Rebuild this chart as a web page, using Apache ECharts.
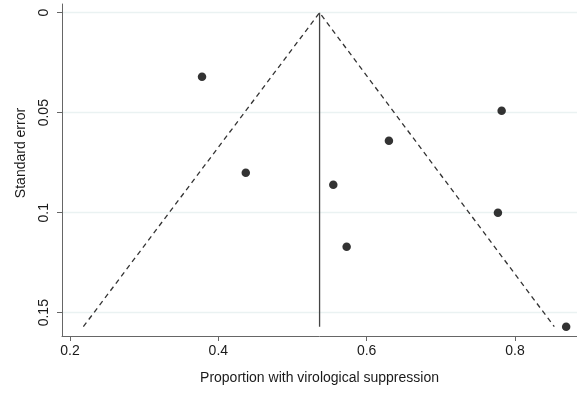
<!DOCTYPE html>
<html>
<head>
<meta charset="utf-8">
<script src="https://cdn.jsdelivr.net/npm/echarts@6/dist/echarts.min.js"></script>
<style>html,body{margin:0;padding:0;background:#fff}#c{width:577px;height:393px}</style>
</head>
<body>
<div id="c"></div>
<script>
// Study estimates: proportion (x) and standard error (y)
const proportion = [0.378, 0.437, 0.555, 0.573, 0.630, 0.782, 0.777, 0.869];
const stdError   = [0.032, 0.080, 0.086, 0.117, 0.064, 0.049, 0.100, 0.157];
// Pooled estimate and funnel limits
const pooled = 0.5365;
const seMax = 0.157;
const funnelLeftX = 0.218;
const funnelRightX = 0.853;
const xTicks = [0.2, 0.4, 0.6, 0.8];
const yTicks = [0, 0.05, 0.1, 0.15];

const chart = echarts.init(document.getElementById('c'));
const font = 'Liberation Sans, Arial, sans-serif';
chart.setOption({
  animation: false,
  backgroundColor: '#fff',
  grid: { left: 62, right: 0, top: 4, bottom: 57 },
  xAxis: {
    type: 'value', min: 0.1892, max: 0.8836,
    name: 'Proportion with virological suppression',
    nameLocation: 'middle', nameGap: 35,
    nameTextStyle: { fontFamily: font, fontSize: 14, color: '#1a1a1a' },
    axisLine: { show: true, onZero: false, lineStyle: { color: '#666', width: 1 } },
    axisTick: { show: true, length: 5, lineStyle: { color: '#666' }, customValues: xTicks },
    axisLabel: { fontFamily: font, fontSize: 14, color: '#1a1a1a', margin: 8, customValues: xTicks,
      formatter: v => String(v) },
    splitLine: { show: false }
  },
  yAxis: {
    type: 'value', inverse: true, min: -0.00435, max: 0.16165,
    name: 'Standard error',
    nameLocation: 'middle', nameGap: 34,
    nameTextStyle: { fontFamily: font, fontSize: 14, color: '#1a1a1a', padding: [0, 0, 0, 34] },
    axisLine: { show: true, onZero: false, lineStyle: { color: '#666', width: 1 } },
    axisTick: { show: true, length: 5, lineStyle: { color: '#666' }, customValues: yTicks },
    axisLabel: { fontFamily: font, fontSize: 14, color: '#1a1a1a', margin: 11, rotate: 90, customValues: yTicks,
      formatter: v => String(v) },
    splitLine: { show: false }
  },
  series: [
    {
      type: 'line', silent: true, symbol: 'none',
      data: [[funnelLeftX, seMax], [pooled, 0], [funnelRightX, seMax]],
      lineStyle: { color: '#333', width: 1.3, type: [5, 4] },
      markLine: {
        silent: true, symbol: 'none', label: { show: false },
        lineStyle: { color: '#eaf2f2', width: 1.3, type: 'solid' },
        data: yTicks.map(v => ({ yAxis: v })),
        z: 0
      },
      z: 3
    },
    {
      type: 'line', silent: true, symbol: 'none',
      data: [[pooled, 0], [pooled, seMax]],
      lineStyle: { color: '#444', width: 1.3 },
      z: 3
    },
    {
      type: 'scatter', symbol: 'circle', symbolSize: 8.5,
      data: proportion.map((p, i) => [p, stdError[i]]),
      itemStyle: { color: '#000' },
      z: 4
    }
  ]
});
</script>
</body>
</html>
